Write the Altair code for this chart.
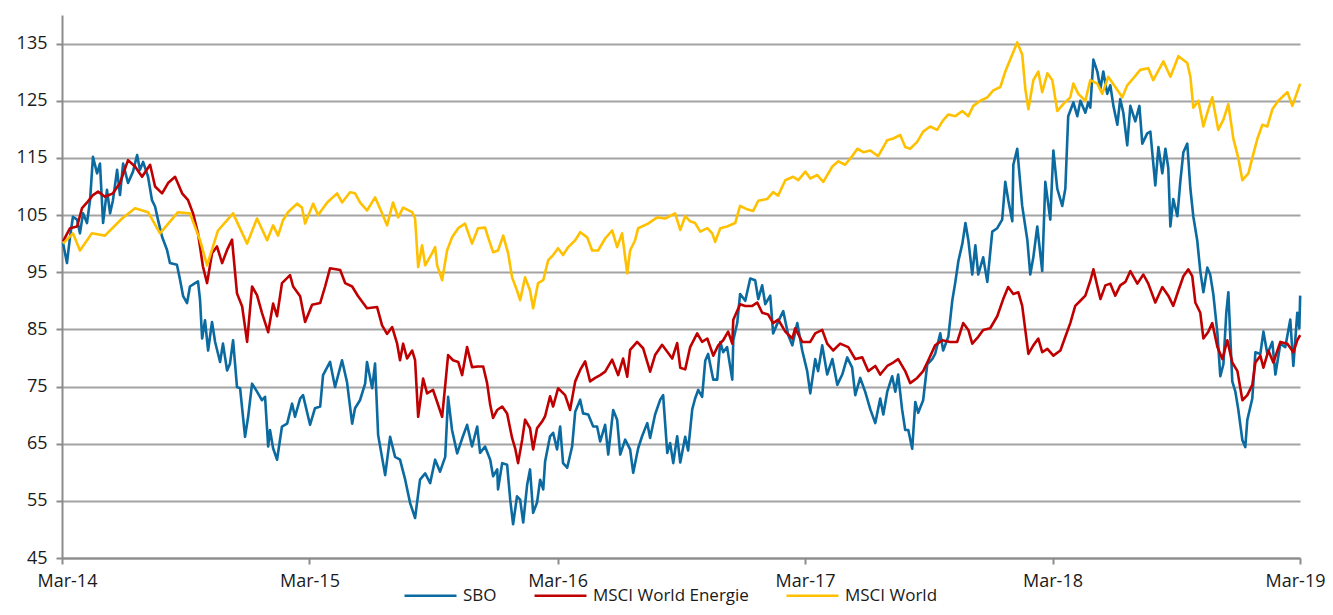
import altair as alt
import pandas as pd

SERIES = ["SBO", "MSCI World Energie", "MSCI World"]
COLORS = ["#0b6aa0", "#c00000", "#ffc000"]
Y_TICKS = [45, 55, 65, 75, 85, 95, 105, 115, 125, 135]
X_TICK_YEARS = [2014, 2015, 2016, 2017, 2018, 2019]

# (months since Mar-14, index value)
sbo = [
    (0.05, 100.1), (0.24, 96.6), (0.39, 101.2), (0.53, 104.7), (0.73, 104.2), (0.87, 101.8),
    (1.02, 105.3), (1.21, 103.6), (1.36, 107.6), (1.50, 115.2), (1.70, 112.3), (1.84, 114.0),
    (1.99, 103.6), (2.18, 109.4), (2.33, 105.3), (2.47, 107.6), (2.67, 112.9), (2.81, 108.5),
    (2.96, 114.0), (3.20, 110.6), (3.44, 112.6), (3.64, 115.5), (3.78, 112.9), (3.93, 114.3),
    (4.17, 111.7), (4.36, 107.6), (4.51, 106.5), (4.65, 104.2), (4.85, 101.2), (5.09, 98.9),
    (5.23, 96.6), (5.57, 96.3), (5.72, 93.7), (5.87, 90.8), (6.06, 89.6), (6.20, 92.5),
    (6.45, 93.1), (6.59, 93.4), (6.69, 90.1), (6.79, 83.4), (6.93, 86.6), (7.08, 81.3),
    (7.27, 86.3), (7.42, 82.8), (7.66, 79.3), (7.80, 82.5), (8.00, 77.8), (8.14, 79.0),
    (8.29, 83.1), (8.48, 74.9), (8.63, 74.7), (8.87, 66.2), (9.02, 69.7), (9.21, 75.5),
    (9.45, 74.1), (9.69, 72.6), (9.84, 73.2), (9.99, 64.5), (10.08, 67.4), (10.23, 64.2),
    (10.42, 62.2), (10.66, 68.0), (10.91, 68.5), (11.15, 72.0), (11.29, 69.7), (11.54, 72.9),
    (11.68, 73.5), (12.02, 68.3), (12.26, 71.2), (12.51, 71.5), (12.65, 77.0), (12.99, 79.3),
    (13.23, 74.9), (13.57, 79.6), (13.81, 75.8), (14.06, 68.5), (14.20, 71.2), (14.44, 72.6),
    (14.69, 75.5), (14.78, 79.3), (15.03, 74.7), (15.17, 79.0), (15.32, 66.5), (15.66, 59.5),
    (15.90, 66.2), (16.14, 62.7), (16.38, 62.2), (16.63, 58.7), (16.87, 54.6), (17.11, 52.0),
    (17.35, 58.7), (17.60, 59.8), (17.84, 58.1), (18.08, 62.2), (18.32, 60.1), (18.57, 62.7),
    (18.71, 73.2), (18.90, 67.4), (19.15, 63.3), (19.39, 65.9), (19.63, 68.3), (19.87, 64.5),
    (20.12, 68.0), (20.26, 63.4), (20.50, 64.5), (20.75, 62.2), (20.89, 59.3), (21.09, 60.5),
    (21.13, 57.0), (21.33, 61.6), (21.57, 61.3), (21.72, 55.2), (21.86, 50.9), (22.05, 55.8),
    (22.20, 55.2), (22.35, 51.2), (22.54, 57.8), (22.68, 60.5), (22.83, 52.9), (23.02, 54.7),
    (23.17, 58.7), (23.32, 57.0), (23.41, 61.9), (23.65, 66.3), (23.80, 66.9), (23.99, 64.0),
    (24.14, 68.0), (24.28, 61.6), (24.48, 60.8), (24.72, 64.5), (24.87, 70.6), (25.11, 72.7),
    (25.25, 70.3), (25.50, 70.1), (25.74, 68.0), (25.93, 68.0), (26.08, 65.4), (26.32, 68.3),
    (26.47, 63.1), (26.71, 70.9), (26.90, 69.2), (27.05, 63.1), (27.29, 65.7), (27.53, 64.0),
    (27.68, 59.9), (27.92, 64.2), (28.11, 66.3), (28.36, 68.6), (28.50, 66.0), (28.74, 70.1),
    (28.99, 72.7), (29.13, 73.5), (29.33, 63.4), (29.47, 65.1), (29.62, 61.6), (29.81, 66.3),
    (29.96, 61.7), (30.20, 66.2), (30.34, 63.8), (30.54, 71.0), (30.68, 72.9), (30.83, 74.4),
    (31.02, 73.2), (31.17, 79.5), (31.31, 80.7), (31.56, 76.2), (31.75, 76.2), (31.90, 82.8),
    (32.04, 81.0), (32.23, 81.9), (32.48, 76.2), (32.53, 83.1), (32.72, 86.1), (32.86, 91.2),
    (33.11, 90.0), (33.35, 93.9), (33.59, 93.6), (33.74, 90.3), (33.93, 92.7), (34.08, 89.4),
    (34.32, 90.9), (34.46, 84.3), (34.71, 86.4), (34.95, 88.2), (35.19, 84.0), (35.39, 82.2),
    (35.63, 86.1), (35.87, 81.3), (36.11, 77.7), (36.26, 73.8), (36.50, 79.8), (36.64, 77.7),
    (36.84, 82.2), (37.08, 77.1), (37.33, 79.8), (37.57, 75.3), (37.81, 77.1), (38.05, 80.1),
    (38.29, 78.3), (38.44, 73.5), (38.68, 76.5), (38.92, 74.1), (39.17, 71.0), (39.41, 68.6),
    (39.65, 72.9), (39.80, 70.1), (39.99, 74.1), (40.23, 76.8), (40.38, 74.1), (40.52, 77.1),
    (40.71, 71.0), (40.86, 67.4), (41.01, 67.4), (41.20, 64.1), (41.35, 72.3), (41.49, 70.4),
    (41.73, 72.6), (41.93, 78.9), (42.17, 79.8), (42.31, 80.7), (42.56, 84.3), (42.70, 81.3),
    (42.95, 83.7), (43.14, 90.0), (43.29, 93.3), (43.44, 97.0), (43.63, 100.0), (43.78, 103.6),
    (43.92, 100.6), (44.11, 94.6), (44.26, 99.7), (44.40, 94.6), (44.64, 97.6), (44.84, 93.3),
    (45.08, 102.1), (45.32, 102.7), (45.56, 104.2), (45.71, 110.8), (45.86, 107.5), (46.05, 103.9),
    (46.10, 113.8), (46.29, 116.6), (46.53, 106.6), (46.78, 100.6), (46.92, 94.6), (47.07, 97.6),
    (47.26, 103.0), (47.50, 95.2), (47.65, 110.8), (47.89, 104.2), (48.04, 116.3), (48.23, 109.6),
    (48.47, 106.6), (48.62, 109.6), (48.76, 122.3), (49.01, 124.7), (49.20, 122.3), (49.35, 125.0),
    (49.59, 122.9), (49.73, 124.7), (49.83, 123.8), (49.98, 132.2), (50.17, 130.1), (50.32, 127.1),
    (50.46, 130.1), (50.65, 126.2), (50.80, 127.7), (50.95, 124.1), (51.14, 120.8), (51.28, 125.3),
    (51.43, 122.9), (51.62, 117.2), (51.77, 124.1), (52.01, 121.4), (52.21, 124.1), (52.35, 117.5),
    (52.59, 119.3), (52.74, 119.6), (52.98, 110.2), (53.13, 116.9), (53.32, 112.3), (53.47, 116.6),
    (53.61, 113.2), (53.71, 103.0), (53.85, 107.8), (54.05, 104.8), (54.19, 110.8), (54.34, 116.0),
    (54.53, 117.5), (54.68, 109.6), (54.82, 104.8), (55.01, 100.6), (55.16, 95.2), (55.31, 91.5),
    (55.50, 95.8), (55.64, 94.6), (55.79, 91.2), (55.99, 84.3), (56.13, 76.8), (56.28, 78.9),
    (56.42, 87.9), (56.52, 91.5), (56.71, 75.9), (56.86, 74.1), (57.00, 71.0), (57.20, 65.6),
    (57.34, 64.4), (57.44, 69.2), (57.68, 72.9), (57.83, 81.0), (58.07, 80.7), (58.22, 84.6),
    (58.41, 80.7), (58.65, 82.8), (58.80, 77.1), (59.04, 82.5), (59.28, 81.9), (59.52, 86.7),
    (59.67, 78.6), (59.86, 87.9), (59.96, 85.2), (60.00, 90.9),
]

energie = [
    (0.05, 100.4), (0.39, 102.7), (0.73, 103.0), (0.97, 106.2), (1.26, 107.4), (1.50, 108.5),
    (1.75, 109.1), (2.08, 108.2), (2.47, 108.8), (2.81, 110.6), (3.20, 114.6), (3.54, 113.5),
    (3.88, 111.7), (4.27, 113.8), (4.51, 110.0), (4.85, 108.8), (5.14, 110.6), (5.48, 111.7),
    (5.82, 108.8), (6.11, 107.6), (6.35, 105.3), (6.59, 101.8), (6.83, 96.0), (7.03, 93.1),
    (7.27, 98.3), (7.51, 99.5), (7.76, 96.6), (8.00, 98.9), (8.24, 100.7), (8.48, 91.3),
    (8.73, 89.0), (8.97, 82.8), (9.21, 92.5), (9.45, 91.0), (9.69, 87.9), (9.99, 84.5),
    (10.23, 89.5), (10.42, 87.3), (10.66, 93.1), (11.05, 94.5), (11.20, 92.5), (11.54, 90.8),
    (11.78, 86.3), (12.12, 89.3), (12.51, 89.6), (12.75, 92.5), (12.99, 95.7), (13.48, 95.4),
    (13.72, 93.1), (14.06, 92.5), (14.35, 90.8), (14.78, 88.7), (15.27, 88.9), (15.51, 85.7),
    (15.75, 84.2), (16.00, 85.4), (16.24, 82.5), (16.38, 79.6), (16.53, 82.5), (16.72, 79.9),
    (16.97, 81.3), (17.11, 79.6), (17.26, 69.7), (17.50, 76.4), (17.69, 73.8), (17.98, 74.4),
    (18.18, 72.3), (18.42, 69.7), (18.57, 75.2), (18.71, 80.5), (18.95, 79.6), (19.20, 79.3),
    (19.39, 77.0), (19.63, 81.9), (19.87, 78.4), (20.16, 78.5), (20.41, 78.5), (20.60, 75.6),
    (20.75, 71.8), (20.89, 69.5), (21.09, 70.9), (21.33, 71.5), (21.57, 70.3), (21.81, 66.0),
    (21.96, 64.2), (22.10, 61.6), (22.30, 65.7), (22.44, 69.2), (22.68, 67.7), (22.83, 64.0),
    (23.02, 67.7), (23.27, 68.9), (23.41, 69.8), (23.65, 73.3), (23.80, 71.5), (24.04, 74.7),
    (24.38, 73.5), (24.62, 70.9), (24.87, 75.9), (25.11, 77.9), (25.35, 79.4), (25.59, 75.9),
    (25.84, 76.5), (26.08, 77.0), (26.32, 77.6), (26.66, 79.7), (26.95, 77.0), (27.19, 79.9),
    (27.39, 76.7), (27.53, 81.4), (27.87, 82.8), (28.16, 81.7), (28.50, 77.6), (28.74, 80.5),
    (29.08, 82.3), (29.33, 81.1), (29.57, 79.9), (29.81, 82.6), (29.96, 78.3), (30.20, 78.0),
    (30.44, 81.9), (30.78, 84.3), (31.02, 82.8), (31.27, 83.4), (31.56, 80.4), (31.80, 82.2),
    (32.04, 83.1), (32.28, 84.6), (32.48, 82.5), (32.53, 86.7), (32.86, 89.4), (33.11, 89.1),
    (33.45, 89.1), (33.69, 89.7), (33.93, 87.9), (34.22, 87.6), (34.46, 86.1), (34.71, 86.7),
    (35.05, 84.6), (35.39, 83.4), (35.53, 85.2), (35.87, 82.8), (36.26, 82.8), (36.50, 84.3),
    (36.84, 84.9), (37.08, 82.5), (37.37, 81.3), (37.71, 82.5), (38.10, 81.9), (38.44, 79.8),
    (38.78, 80.1), (39.07, 77.7), (39.41, 78.6), (39.65, 77.1), (39.99, 78.6), (40.28, 79.2),
    (40.52, 79.8), (40.86, 77.7), (41.10, 75.6), (41.44, 76.5), (41.73, 77.7), (41.97, 79.5),
    (42.31, 82.2), (42.66, 83.1), (43.04, 82.8), (43.38, 82.8), (43.67, 86.1), (43.92, 84.9),
    (44.11, 82.5), (44.40, 83.7), (44.64, 84.9), (44.98, 85.2), (45.32, 87.3), (45.61, 90.3),
    (45.85, 92.4), (46.10, 91.2), (46.34, 91.5), (46.53, 89.1), (46.68, 84.9), (46.83, 80.7),
    (47.07, 82.2), (47.31, 83.4), (47.50, 81.0), (47.75, 81.6), (48.04, 80.4), (48.38, 81.3),
    (48.62, 83.7), (48.86, 86.1), (49.10, 89.1), (49.35, 90.0), (49.59, 90.9), (49.83, 93.5),
    (49.98, 95.5), (50.32, 90.3), (50.56, 92.7), (50.80, 93.0), (51.04, 90.9), (51.28, 92.7),
    (51.53, 93.3), (51.77, 95.2), (52.11, 93.0), (52.40, 94.6), (52.64, 93.0), (52.98, 89.7),
    (53.32, 92.4), (53.61, 90.9), (53.85, 89.1), (54.10, 91.8), (54.34, 94.3), (54.58, 95.5),
    (54.77, 94.3), (54.92, 89.7), (55.16, 87.9), (55.31, 83.4), (55.55, 84.6), (55.74, 86.1),
    (55.99, 81.9), (56.23, 79.8), (56.47, 83.1), (56.71, 79.2), (56.96, 77.7), (57.20, 72.6),
    (57.44, 73.5), (57.68, 75.3), (57.83, 79.2), (58.07, 80.4), (58.22, 78.3), (58.46, 81.3),
    (58.70, 79.2), (59.04, 82.8), (59.38, 82.5), (59.67, 81.0), (59.86, 83.1), (60.00, 84.0),
]

world = [
    (0.05, 100.0), (0.53, 101.8), (0.87, 98.8), (1.45, 101.8), (2.08, 101.4), (2.91, 104.4),
    (3.54, 106.2), (4.17, 105.5), (4.75, 101.8), (5.62, 105.5), (6.20, 105.3), (6.69, 100.6),
    (7.03, 96.2), (7.56, 102.3), (8.29, 105.3), (8.97, 100.0), (9.45, 104.4), (9.94, 100.6),
    (10.23, 103.2), (10.47, 101.4), (10.71, 104.1), (10.95, 105.5), (11.39, 107.0), (11.63, 106.3),
    (11.78, 103.5), (12.17, 107.0), (12.41, 105.0), (12.85, 107.2), (13.33, 108.8), (13.57, 107.2),
    (13.96, 109.0), (14.20, 108.8), (14.44, 107.2), (14.78, 105.8), (15.17, 108.1), (15.51, 105.3),
    (15.75, 103.2), (16.04, 107.2), (16.29, 104.6), (16.53, 106.3), (16.97, 105.5), (17.11, 104.4),
    (17.26, 95.9), (17.45, 99.7), (17.60, 96.2), (17.93, 98.3), (18.08, 99.4), (18.18, 96.2),
    (18.42, 93.6), (18.66, 98.8), (18.90, 101.1), (19.20, 102.7), (19.53, 103.5), (19.87, 100.0),
    (20.16, 102.7), (20.50, 102.8), (20.65, 101.1), (20.89, 98.5), (21.13, 98.8), (21.38, 101.4),
    (21.62, 98.3), (21.81, 94.1), (22.05, 91.8), (22.20, 90.1), (22.44, 94.1), (22.68, 91.8),
    (22.83, 88.7), (23.07, 93.1), (23.32, 93.6), (23.56, 97.1), (23.80, 98.0), (24.04, 99.2),
    (24.28, 98.0), (24.53, 99.4), (24.87, 100.6), (25.11, 102.0), (25.45, 101.1), (25.69, 98.8),
    (25.98, 98.8), (26.32, 100.9), (26.66, 102.3), (26.90, 99.4), (27.14, 101.8), (27.39, 94.8),
    (27.53, 98.8), (27.77, 100.6), (27.92, 102.7), (28.40, 103.5), (28.84, 104.6), (29.23, 104.4),
    (29.71, 105.3), (29.96, 102.4), (30.20, 104.8), (30.44, 103.9), (30.68, 103.6), (30.93, 102.1),
    (31.27, 102.7), (31.51, 101.8), (31.65, 100.3), (31.90, 102.7), (32.23, 103.0), (32.62, 103.6),
    (32.86, 106.6), (33.20, 106.0), (33.49, 105.7), (33.74, 107.5), (34.17, 107.8), (34.46, 109.0),
    (34.70, 108.4), (35.05, 111.1), (35.43, 111.7), (35.68, 111.1), (36.02, 112.6), (36.26, 111.4),
    (36.60, 112.0), (36.89, 110.8), (37.33, 113.5), (37.62, 114.4), (37.95, 113.8), (38.29, 115.3),
    (38.54, 116.6), (38.83, 116.0), (39.17, 116.3), (39.55, 115.3), (39.99, 118.1), (40.28, 118.4),
    (40.62, 119.0), (40.86, 116.9), (41.10, 116.6), (41.44, 117.8), (41.73, 119.6), (42.07, 120.5),
    (42.41, 119.9), (42.66, 121.4), (42.95, 122.6), (43.29, 122.3), (43.63, 123.2), (43.92, 122.3),
    (44.16, 124.1), (44.50, 125.0), (44.84, 125.6), (45.13, 126.8), (45.47, 127.4), (45.71, 130.1),
    (45.95, 132.2), (46.29, 135.2), (46.53, 133.1), (46.68, 127.1), (46.83, 123.5), (47.07, 128.6),
    (47.31, 130.1), (47.50, 126.5), (47.75, 129.8), (47.99, 128.6), (48.23, 123.2), (48.52, 124.4),
    (48.86, 125.6), (49.01, 128.0), (49.25, 126.2), (49.59, 125.0), (49.83, 128.6), (50.17, 128.0),
    (50.41, 126.2), (50.70, 129.2), (51.04, 127.4), (51.38, 125.6), (51.62, 127.7), (51.91, 128.9),
    (52.25, 130.4), (52.64, 130.7), (52.88, 128.6), (53.37, 131.9), (53.71, 129.2), (54.10, 132.8),
    (54.53, 131.6), (54.68, 129.2), (54.82, 123.8), (55.07, 125.0), (55.31, 120.5), (55.50, 122.9),
    (55.74, 125.6), (56.03, 119.9), (56.28, 121.7), (56.52, 124.4), (56.76, 118.4), (57.00, 115.0),
    (57.20, 111.1), (57.49, 112.3), (57.68, 115.0), (57.93, 118.4), (58.17, 120.8), (58.41, 120.5),
    (58.65, 123.5), (58.94, 125.0), (59.38, 126.5), (59.62, 124.1), (60.00, 128.0),
]

start = pd.Timestamp("2014-03-01")
rows = []
for name, pts in zip(SERIES, [sbo, energie, world]):
    for m, v in pts:
        rows.append({
            "date": start + pd.Timedelta(days=m * 30.4375),
            "value": v,
            "series": name,
        })
df = pd.DataFrame(rows)

FONT = "Open Sans"
AXIS_GRAY = "#8c8c8c"

chart = (
    alt.Chart(df)
    .mark_line(strokeWidth=2.6, strokeJoin="round")
    .encode(
        x=alt.X(
            "date:T",
            scale=alt.Scale(
                domain=[
                    alt.DateTime(year=2014, month=3, date=1),
                    alt.DateTime(year=2019, month=3, date=1),
                ]
            ),
            axis=alt.Axis(
                values=[alt.DateTime(year=y, month=3, date=1) for y in X_TICK_YEARS],
                format="%b-%y",
                title=None,
                grid=False,
                labelFlush=True,
                labelFlushOffset=25,
                labelOverlap=False,
                labelBound=False,
                tickSize=6,
                tickWidth=2,
                tickColor=AXIS_GRAY,
                domainColor=AXIS_GRAY,
                domainWidth=2,
                labelFont=FONT,
                labelFontSize=18,
                labelColor="#1a1a1a",
                labelPadding=8,
            ),
        ),
        y=alt.Y(
            "value:Q",
            scale=alt.Scale(domain=[45, 140], nice=False, zero=False),
            axis=alt.Axis(
                values=Y_TICKS,
                title=None,
                grid=True,
                gridColor="#a3a3a3",
                gridWidth=2,
                tickSize=6,
                tickWidth=2,
                tickColor=AXIS_GRAY,
                domainColor=AXIS_GRAY,
                domainWidth=2,
                labelFont=FONT,
                labelFontSize=18,
                labelColor="#1a1a1a",
                labelPadding=9,
            ),
        ),
        color=alt.Color(
            "series:N",
            sort=SERIES,
            scale=alt.Scale(domain=SERIES, range=COLORS),
            legend=alt.Legend(
                title=None,
                orient="none",
                legendX=341,
                legendY=553,
                direction="horizontal",
                symbolType="stroke",
                symbolSize=2700,
                symbolStrokeWidth=2.6,
                labelFont=FONT,
                labelFontSize=17,
                labelColor="#1a1a1a",
                labelLimit=400,
                labelOffset=5,
                columnPadding=32,
                padding=0,
            ),
        ),
    )
    .properties(
        width=1238,
        height=543,
        padding={"left": 54, "top": 7, "right": 25, "bottom": 49},
        autosize=alt.AutoSizeParams(type="none"),
        background="white",
    )
    .configure_view(stroke=None)
)

chart.save("out.html", embed_options={"renderer": "svg", "actions": False})
